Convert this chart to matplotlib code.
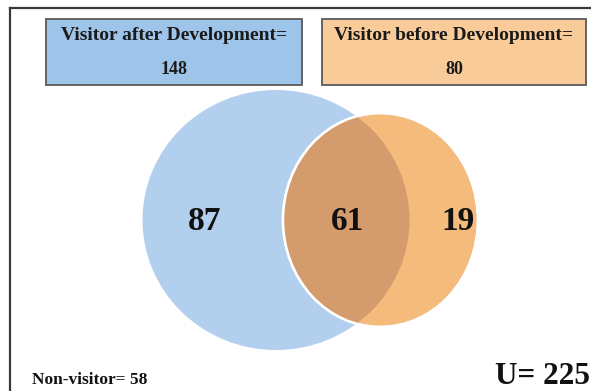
import matplotlib.pyplot as plt
from matplotlib.patches import Ellipse, Rectangle

# valores do diagrama
so_depois = 87
ambos = 61
so_antes = 19
nao_visitante = 58
total = 225
total_depois = so_depois + ambos
total_antes = so_antes + ambos

titulos = ["Visitor after Development=", "Visitor before Development="]

azul_circ = "#b3cfee"
laranja_circ = "#f4bb7d"
sobreposicao = "#d49b6d"
azul_caixa = "#9fc4ea"
laranja_caixa = "#f9cb98"

fig = plt.figure(figsize=(5.91, 3.91), dpi=100)
ax = fig.add_axes([0, 0, 1, 1])
ax.set_xlim(0, 591)
ax.set_ylim(391, 0)
ax.axis("off")

fonte = "Liberation Serif"

# moldura externa
ax.plot([10, 591], [7.5, 7.5], color="#3a3a3a", lw=1.6)
ax.plot([10, 10], [7.5, 391], color="#3a3a3a", lw=1.6)

# caixas do topo
caixas = [(46, 302, azul_caixa, total_depois), (322, 586, laranja_caixa, total_antes)]
for (x0, x1, cor, valor), titulo in zip(caixas, titulos):
    ax.add_patch(Rectangle((x0, 19), x1 - x0, 66, facecolor=cor,
                           edgecolor="#595959", lw=1.3))
    meio = (x0 + x1) / 2
    ax.text(meio, 36, titulo, ha="center", va="center", fontsize=14,
            fontweight="bold", family=fonte, color="#1a1a1a")
    ax.text(meio, 69, str(valor), ha="center", va="center", fontsize=13,
            fontweight="bold", family=fonte, color="#1a1a1a")

# circulos
azul = Ellipse((276, 220), 267, 260, facecolor=azul_circ, edgecolor="none")
ax.add_patch(azul)
laranja = Ellipse((380.5, 220), 195, 214, facecolor=laranja_circ,
                  edgecolor="white", lw=1.8)
ax.add_patch(laranja)
inter = Ellipse((380.5, 220), 195, 214, facecolor=sobreposicao, edgecolor="none")
ax.add_patch(inter)
inter.set_clip_path(azul)
borda = Ellipse((380.5, 220), 195, 214, facecolor="none", edgecolor="white", lw=1.8)
ax.add_patch(borda)

for x, v in [(205, so_depois), (348, ambos), (458, so_antes)]:
    ax.text(x, 221, str(v), ha="center", va="center", fontsize=24,
            fontweight="bold", family=fonte, color="#111111")

ax.text(32, 380, "Non-visitor= " + str(nao_visitante), ha="left", va="center",
        fontsize=12.5, fontweight="bold", family=fonte, color="#111111")
ax.text(590, 377, "U= " + str(total), ha="right", va="center",
        fontsize=22.5, fontweight="bold", family=fonte, color="#111111")

fig.savefig("out.png", dpi=100)
